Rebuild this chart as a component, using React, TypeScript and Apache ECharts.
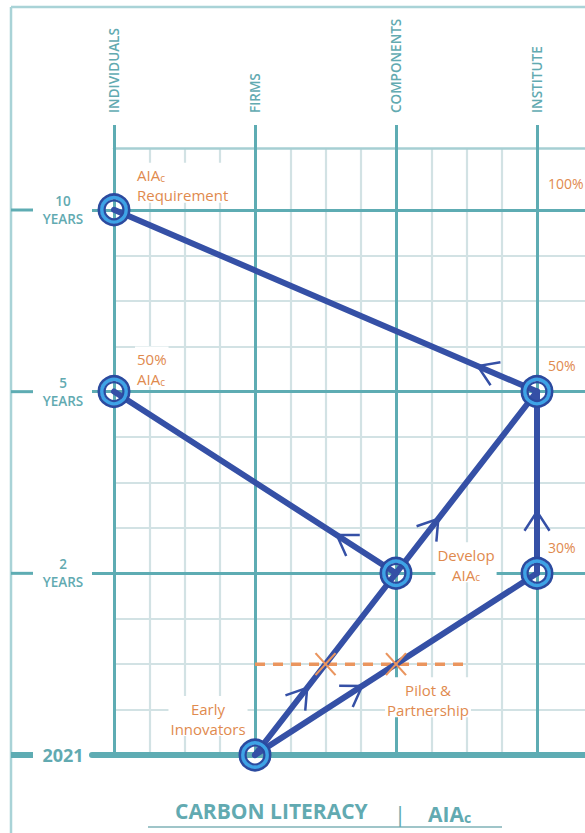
import React, { useEffect, useRef } from 'react';
import * as echarts from 'echarts';

// ---- data ----
const columns = ['INDIVIDUALS', 'FIRMS', 'COMPONENTS', 'INSTITUTE'];
const rowNumbers = ['2021', '2', '5', '10'];
const rowUnit = 'YEARS';
const percentRows = [1, 2, 3];
const percentLabels = ['30%', '50%', '100%'];

// nodes: column index, row index
const nodeCol = [0, 0, 3, 2, 3, 1];
const nodeRow = [3, 2, 2, 1, 1, 0];

// links between nodes and where the arrow sits along each (0..1)
const linkFrom = [5, 5, 3, 4, 3, 2];
const linkTo = [3, 4, 2, 2, 1, 0];
const arrowAt = [0.37, 0.38, 0.3, 0.34, 0.21, 0.14];

// pilot dashed line
const pilotRow = 0.5;
const pilotStart = 1;
const pilotEnd = 2.5;
const pilotLinks = [0, 1];

// annotations
const noteTexts = [
  '{a|AIA}{s|c}\n{a|Requirement}',
  '{a|50%}\n{a|AIA}{s|c}',
  '{a|Develop}\n{a|AIA}{s|c}',
  '{a|Pilot &}\n{a|Partnership}',
  '{a|Early}\n{a|Innovators}',
];
const noteCol = [0, 0, 2, 2, 1];
const noteRow = [3, 2, 1, 0.5, 0];

const titleMain = 'CARBON LITERACY';
const titleSep = '|';
const titleSub = 'AIA';

// ---- styles ----
const FONT = '"Open Sans", "Noto Sans", sans-serif';
const TEAL = '#5eacb3';
const TEAL_TEXT = '#62aab1';
const MINOR = '#d2e2e4';
const BORDER = '#a6cfd3';
const FRAME = '#a9d3d7';
const BLUE = '#3550a6';
const DARK_RING = '#2b4a9f';
const LIGHT_RING = '#3ea3e6';
const ORANGE = '#df8a4e';
const ORANGE_DASH = '#ea955e';

const richOrange = {
  a: { fontSize: 15, fontFamily: FONT, color: ORANGE, lineHeight: 20, verticalAlign: 'bottom' as const },
  s: { fontSize: 10, fontFamily: FONT, color: ORANGE, lineHeight: 17, verticalAlign: 'bottom' as const },
};

const noteOffset = [
  { dx: 21, dy: -27, align: 'left' },
  { dx: 21, dy: -25, align: 'left' },
  { dx: 70, dy: -11, align: 'center' },
  { dx: 32, dy: 33, align: 'center' },
  { dx: -47, dy: -39, align: 'center' },
];

function buildOption(): any {
  return {
    animation: false,
    backgroundColor: '#ffffff',
    grid: [
      { left: 114, right: 48, top: 125, bottom: 78, containLabel: false, outerBoundsMode: 'none' },
      { left: 114, right: 48, top: 148, bottom: 78, containLabel: false, outerBoundsMode: 'none' },
      { left: 92, right: 0, top: 210, bottom: 78, containLabel: false, outerBoundsMode: 'none' },
      { left: 114, right: 0, top: 210, bottom: 78, containLabel: false, outerBoundsMode: 'none' },
    ],
    xAxis: [
      {
        gridIndex: 0, type: 'value', position: 'top', min: 0, max: 3, interval: 1, z: 2,
        axisLine: { show: false }, axisTick: { show: false },
        axisLabel: {
          rotate: 90, margin: 12, color: TEAL_TEXT, fontSize: 13.5, fontWeight: 600, fontFamily: FONT,
          formatter: (v: number) => columns[Math.round(v)] ?? '',
        },
        splitLine: { show: true, lineStyle: { color: TEAL, width: 3 } },
      },
      {
        gridIndex: 1, type: 'value', min: 0, max: 3, interval: 1, z: 0,
        axisLine: { show: false }, axisTick: { show: false }, axisLabel: { show: false },
        splitLine: { show: false },
        minorTick: { show: false, splitNumber: 4 },
        minorSplitLine: { show: true, lineStyle: { color: MINOR, width: 2.2 } },
      },
      {
        gridIndex: 2, type: 'value', min: 0, max: 1, z: 3,
        axisLine: { show: true, onZero: false, lineStyle: { color: TEAL, width: 6 } },
        axisTick: { show: false }, axisLabel: { show: false }, splitLine: { show: false },
      },
      {
        gridIndex: 3, type: 'value', position: 'top', offset: 62, min: 0, max: 1, z: 0,
        axisLine: { show: true, onZero: false, lineStyle: { color: BORDER, width: 2.5 } },
        axisTick: { show: false }, axisLabel: { show: false }, splitLine: { show: false },
      },
    ],
    yAxis: [
      { gridIndex: 0, type: 'value', min: 0, max: 1, show: false },
      { gridIndex: 1, type: 'value', min: 0, max: 3.34, show: false },
      {
        gridIndex: 2, type: 'value', min: 0, max: 3, interval: 1, z: 1,
        axisLine: { show: false }, axisTick: { show: false },
        axisLabel: {
          margin: 29, align: 'center',
          formatter: (v: number) => {
            const i = Math.round(v);
            if (i === 0) return '{y|' + rowNumbers[0] + '}';
            return '{n|' + rowNumbers[i] + '}\n{n|' + rowUnit + '}';
          },
          rich: {
            y: { fontSize: 18, fontWeight: 700, fontFamily: FONT, color: TEAL_TEXT },
            n: { fontSize: 13.5, fontWeight: 600, fontFamily: FONT, color: TEAL_TEXT, lineHeight: 18, align: 'center' },
          },
        },
        splitLine: { show: true, lineStyle: { color: TEAL, width: 3 } },
      },
      {
        gridIndex: 3, type: 'value', min: 0, max: 3, interval: 1, z: 0,
        axisLine: { show: false }, axisTick: { show: false }, axisLabel: { show: false },
        splitLine: { show: false },
        minorTick: { show: false, splitNumber: 4 },
        minorSplitLine: { show: true, lineStyle: { color: MINOR, width: 2.2 } },
      },
    ],
    graphic: [
      { type: 'line', z: 0, shape: { x1: 11, y1: 7, x2: 11, y2: 833 }, style: { stroke: FRAME, lineWidth: 2.5 } },
      { type: 'line', z: 0, shape: { x1: 11, y1: 7, x2: 585, y2: 7 }, style: { stroke: FRAME, lineWidth: 2.5 } },
      { type: 'line', shape: { x1: 148, y1: 827, x2: 502, y2: 827 }, style: { stroke: '#9fc5c9', lineWidth: 2 } },
      {
        type: 'text', x: 175, y: 811,
        style: { text: titleMain, fill: TEAL_TEXT, fontSize: 21, fontWeight: 700, fontFamily: FONT, verticalAlign: 'middle', align: 'left' },
      },
      {
        type: 'text', x: 400, y: 813,
        style: { text: titleSep, fill: TEAL_TEXT, fontSize: 22, fontWeight: 400, fontFamily: FONT, verticalAlign: 'middle', align: 'center' },
      },
      {
        type: 'text', x: 428, y: 811,
        style: {
          text: '{a|' + titleSub + '}{s|c}', verticalAlign: 'middle', align: 'left',
          rich: {
            a: { fontSize: 21, fontWeight: 700, fontFamily: FONT, fill: TEAL_TEXT, color: TEAL_TEXT, lineHeight: 26, verticalAlign: 'bottom' },
            s: { fontSize: 14, fontWeight: 700, fontFamily: FONT, fill: TEAL_TEXT, color: TEAL_TEXT, lineHeight: 22, verticalAlign: 'bottom' },
          },
        },
      },
    ],
    series: [
      // left stubs for the row lines
      {
        type: 'custom', xAxisIndex: 2, yAxisIndex: 2, z: 1, clip: false, silent: true,
        data: rowNumbers.map((_, i) => [0, i]),
        renderItem: (params: any, api: any) => {
          const i = params.dataIndex;
          const p = api.coord([0, i]);
          return {
            type: 'line',
            shape: { x1: 11, y1: p[1], x2: 33, y2: p[1] },
            style: { stroke: TEAL, lineWidth: i === 0 ? 6 : 3 },
          };
        },
      },
      // pilot dashed line
      {
        type: 'custom', xAxisIndex: 1, yAxisIndex: 1, z: 3, clip: false, silent: true,
        data: [[pilotStart, pilotRow]],
        renderItem: (params: any, api: any) => {
          const a = api.coord([pilotStart, pilotRow]);
          const b = api.coord([pilotEnd, pilotRow]);
          return {
            type: 'line',
            shape: { x1: a[0], y1: a[1], x2: b[0], y2: b[1] },
            style: { stroke: ORANGE_DASH, lineWidth: 3.5, lineDash: [10, 8] },
          };
        },
      },
      // links with arrows
      {
        type: 'custom', xAxisIndex: 1, yAxisIndex: 1, z: 4, clip: false, silent: true,
        data: linkFrom.map((f, i) => [nodeCol[f], nodeRow[f], i]),
        renderItem: (params: any, api: any) => {
          const i = params.dataIndex;
          const a = api.coord([nodeCol[linkFrom[i]], nodeRow[linkFrom[i]]]);
          const b = api.coord([nodeCol[linkTo[i]], nodeRow[linkTo[i]]]);
          const dx = b[0] - a[0];
          const dy = b[1] - a[1];
          const len = Math.hypot(dx, dy);
          const ux = -dx / len;
          const uy = -dy / len;
          const t = arrowAt[i];
          const px = a[0] + dx * t;
          const py = a[1] + dy * t;
          const ang = (33 * Math.PI) / 180;
          const L = 23;
          const r1 = [ux * Math.cos(ang) - uy * Math.sin(ang), ux * Math.sin(ang) + uy * Math.cos(ang)];
          const r2 = [ux * Math.cos(-ang) - uy * Math.sin(-ang), ux * Math.sin(-ang) + uy * Math.cos(-ang)];
          return {
            type: 'group',
            children: [
              { type: 'line', shape: { x1: a[0], y1: a[1], x2: b[0], y2: b[1] }, style: { stroke: BLUE, lineWidth: 6, lineCap: 'round' } },
              {
                type: 'polyline',
                shape: { points: [[px + r1[0] * L, py + r1[1] * L], [px, py], [px + r2[0] * L, py + r2[1] * L]] },
                style: { stroke: BLUE, lineWidth: 2.5, fill: 'none' },
              },
            ],
          };
        },
      },
      // crossings on the pilot line
      {
        type: 'custom', xAxisIndex: 1, yAxisIndex: 1, z: 5, clip: false, silent: true,
        data: pilotLinks.map((l) => [nodeCol[linkFrom[l]], nodeRow[linkFrom[l]], l]),
        renderItem: (params: any, api: any) => {
          const l = pilotLinks[params.dataIndex];
          const xa = nodeCol[linkFrom[l]], ya = nodeRow[linkFrom[l]];
          const xb = nodeCol[linkTo[l]], yb = nodeRow[linkTo[l]];
          const t = (pilotRow - ya) / (yb - ya);
          const c = api.coord([xa + t * (xb - xa), pilotRow]);
          const sx = 10, sy = 11;
          return {
            type: 'group',
            children: [
              { type: 'line', shape: { x1: c[0] - sx, y1: c[1] - sy, x2: c[0] + sx, y2: c[1] + sy }, style: { stroke: ORANGE_DASH, lineWidth: 2.2 } },
              { type: 'line', shape: { x1: c[0] + sx, y1: c[1] - sy, x2: c[0] - sx, y2: c[1] + sy }, style: { stroke: ORANGE_DASH, lineWidth: 2.2 } },
            ],
          };
        },
      },
      // nodes
      {
        type: 'custom', xAxisIndex: 1, yAxisIndex: 1, z: 6, clip: false, silent: true,
        data: nodeCol.map((c, i) => [c, nodeRow[i]]),
        renderItem: (params: any, api: any) => {
          const c = api.coord([api.value(0), api.value(1)]);
          return {
            type: 'group',
            children: [
              { type: 'circle', shape: { cx: c[0], cy: c[1], r: 12.2 }, style: { fill: 'none', stroke: LIGHT_RING, lineWidth: 4.2 } },
              { type: 'circle', shape: { cx: c[0], cy: c[1], r: 15.2 }, style: { fill: 'none', stroke: DARK_RING, lineWidth: 2.6 } },
              { type: 'circle', shape: { cx: c[0], cy: c[1], r: 9.4 }, style: { fill: 'none', stroke: DARK_RING, lineWidth: 2.2 } },
            ],
          };
        },
      },
      // annotations
      {
        type: 'custom', xAxisIndex: 1, yAxisIndex: 1, z: 7, clip: false, silent: true,
        data: noteCol.map((c, i) => [c, noteRow[i]]),
        renderItem: (params: any, api: any) => {
          const i = params.dataIndex;
          const p = api.coord([noteCol[i], noteRow[i]]);
          const o = noteOffset[i];
          return {
            type: 'text',
            x: p[0] + o.dx,
            y: p[1] + o.dy,
            style: {
              text: noteTexts[i],
              align: o.align,
              verticalAlign: 'middle',
              rich: {
                a: { ...richOrange.a, fill: ORANGE, align: o.align },
                s: { ...richOrange.s, fill: ORANGE },
              },
              backgroundColor: '#ffffff',
              padding: [0, 2],
            },
          };
        },
      },
      // percentage labels
      {
        type: 'custom', xAxisIndex: 1, yAxisIndex: 1, z: 7, clip: false, silent: true,
        data: percentRows.map((r) => [3, r]),
        renderItem: (params: any, api: any) => {
          const i = params.dataIndex;
          const p = api.coord([3, percentRows[i]]);
          return {
            type: 'text',
            x: p[0] + 10,
            y: p[1] - 26,
            style: {
              text: percentLabels[i], fill: ORANGE, fontSize: 14, fontFamily: FONT,
              align: 'left', verticalAlign: 'middle', backgroundColor: '#ffffff', padding: [0, 1],
            },
          };
        },
      },
    ],
  };
}

export default function App() {
  const ref = useRef<HTMLDivElement>(null);
  useEffect(() => {
    if (!ref.current) return;
    const chart = echarts.init(ref.current, null, { renderer: 'svg' });
    chart.setOption(buildOption());
    return () => chart.dispose();
  }, []);
  return (
    <div
      ref={ref}
      style={{ position: 'fixed', left: 0, top: 0, width: 585, height: 833, background: '#ffffff' }}
    />
  );
}
